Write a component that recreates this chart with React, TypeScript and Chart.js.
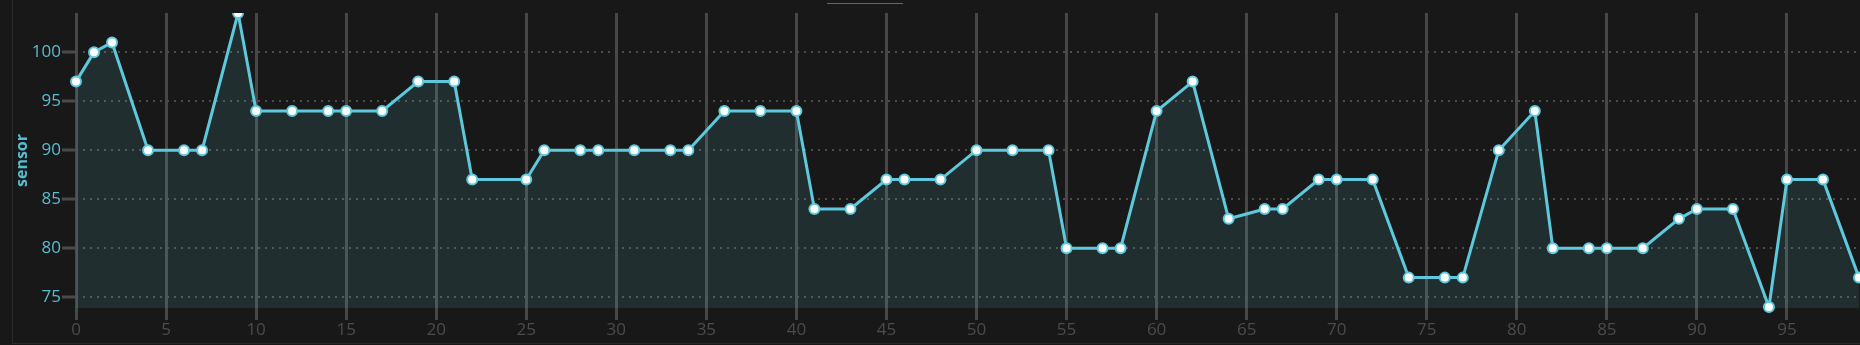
import React, { useEffect, useRef } from "react";
import { Chart, registerables } from "chart.js";

Chart.register(...registerables);

// ---- data ----
const xValues = [
  0, 1, 2, 4, 6, 7, 9, 10, 12, 14, 15, 17, 19, 21, 22, 25, 26, 28, 29, 31,
  33, 34, 36, 38, 40, 41, 43, 45, 46, 48, 50, 52, 54, 55, 57, 58, 60, 62, 64, 66,
  67, 69, 70, 72, 74, 76, 77, 79, 81, 82, 84, 85, 87, 89, 90, 92, 94, 95, 97, 99,
];
const sensorValues = [
  97, 100, 101, 90, 90, 90, 104, 94, 94, 94, 94, 94, 97, 97, 87, 87, 90, 90, 90, 90,
  90, 90, 94, 94, 94, 84, 84, 87, 87, 87, 90, 90, 90, 80, 80, 80, 94, 97, 83, 84,
  84, 87, 87, 87, 77, 77, 77, 90, 94, 80, 80, 80, 80, 83, 84, 84, 74, 87, 87, 77,
];
const xTickValues = [0, 5, 10, 15, 20, 25, 30, 35, 40, 45, 50, 55, 60, 65, 70, 75, 80, 85, 90, 95];
const yTickValues = [75, 80, 85, 90, 95, 100];
const seriesLabel = "sensor";
const yAxisTitle = "sensor";
const xMin = 0;
const xMax = 99;
const yMin = 73.9;
const yMax = 104;

const LINE = "#5ec9dc";
const FONT = "'Open Sans', 'Noto Sans', sans-serif";

export default function App() {
  const ref = useRef<HTMLCanvasElement>(null);

  useEffect(() => {
    const canvas = ref.current;
    if (!canvas) return;
    const chart = new Chart(canvas, {
      type: "line",
      data: {
        datasets: [
          {
            label: seriesLabel,
            data: xValues.map((x, i) => ({ x, y: sensorValues[i] })),
            borderColor: LINE,
            borderWidth: 3,
            backgroundColor: "rgba(94, 201, 220, 0.13)",
            fill: "start",
            tension: 0,
            clip: { left: false, top: 0, right: false, bottom: false } as any,
            pointRadius: 5,
            pointBorderWidth: 2,
            pointBackgroundColor: "#ffffff",
            pointBorderColor: LINE,
          },
        ],
      },
      options: {
        animation: false,
        responsive: false,
        layout: { padding: { top: 13, right: 5, left: 0, bottom: 0 } },
        plugins: {
          legend: { display: false },
          tooltip: { enabled: false },
        },
        scales: {
          x: {
            type: "linear",
            min: xMin,
            max: xMax,
            afterBuildTicks: (s: any) => {
              s.ticks = xTickValues.map((v) => ({ value: v }));
            },
            afterFit: (s: any) => {
              s.height = 35;
            },
            grid: {
              color: "#474747",
              lineWidth: 3,
              tickLength: 12,
              tickColor: "#474747",
              tickWidth: 3,
            },
            border: { display: false },
            ticks: {
              color: "#4b4b4b",
              font: { family: FONT, size: 17 },
              padding: 0,
              maxRotation: 0,
              autoSkip: false,
            },
          },
          y: {
            type: "linear",
            min: yMin,
            max: yMax,
            afterBuildTicks: (s: any) => {
              s.ticks = yTickValues.map((v) => ({ value: v }));
            },
            afterFit: (s: any) => {
              s.width = 63;
            },
            grid: {
              color: "#4c4c4c",
              lineWidth: 2,
              tickLength: 14,
              tickColor: "#4a4a4a",
              tickWidth: 3,
              tickBorderDash: [],
            },
            border: { display: false, dash: [2, 5] },
            ticks: {
              color: "#58bccf",
              font: { family: FONT, size: 17 },
              padding: 1,
            },
            title: {
              display: true,
              text: yAxisTitle,
              color: "#58bccf",
              font: { family: FONT, size: 16, weight: "bold" },
              padding: 0,
            },
          },
        },
      },
    });
    return () => chart.destroy();
  }, []);

  return (
    <div
      style={{
        position: "fixed",
        left: 0,
        top: 0,
        width: 1860,
        height: 345,
        background: "#181818",
        overflow: "hidden",
      }}
    >
      <div
        style={{
          position: "absolute",
          left: 12,
          top: 0,
          width: 1860,
          height: 343,
          borderLeft: "1px solid #2b2b2b",
          borderBottom: "1px solid #2b2b2b",
        }}
      />
      <div
        style={{
          position: "absolute",
          left: 827,
          top: 3,
          width: 76,
          height: 1,
          background: "#1e78d0",
        }}
      />
      <canvas
        ref={ref}
        width={1853}
        height={343}
        style={{ position: "absolute", left: 13, top: 0, width: 1853, height: 343 }}
      />
    </div>
  );
}
